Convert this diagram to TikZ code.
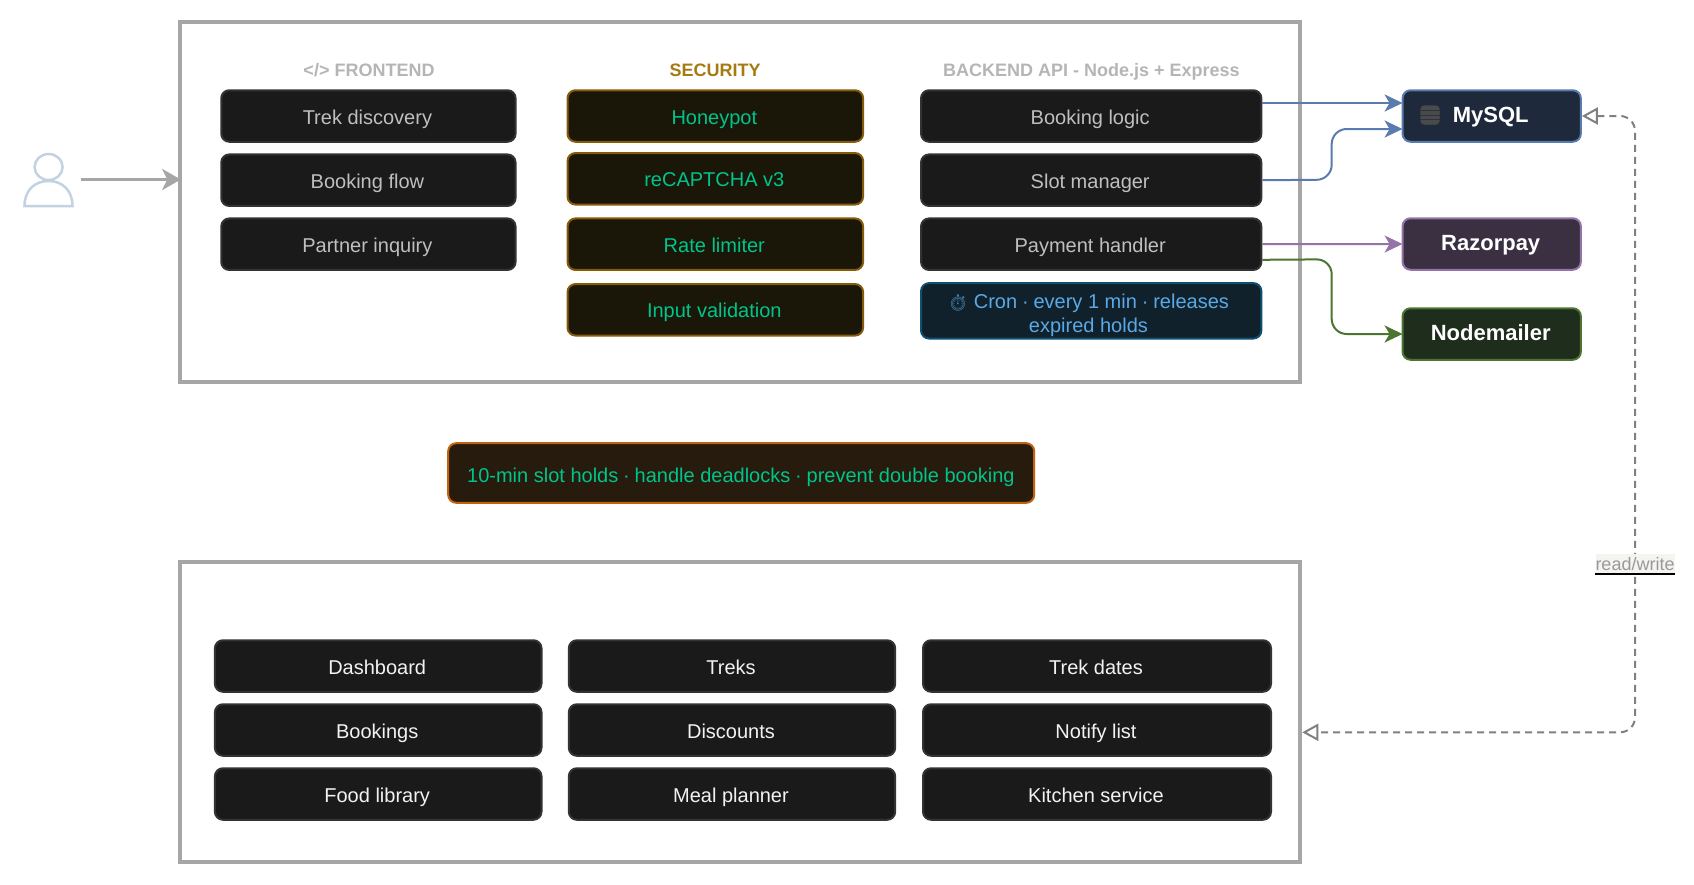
\documentclass[tikz,border=0pt]{standalone}
\usepackage{fontspec}
\setmainfont{Liberation Sans}
\newfontfamily\emojifont{Noto Emoji}
\usetikzlibrary{arrows.meta}
\definecolor{boxfill}{HTML}{1A1A1A}
\definecolor{boxline}{HTML}{333333}
\definecolor{framegray}{HTML}{A6A6A6}
\definecolor{headgray}{HTML}{B5B5B5}
\definecolor{secgold}{HTML}{A67A10}
\definecolor{secfill}{HTML}{1A1708}
\definecolor{secline}{HTML}{855A0A}
\definecolor{secgreen}{HTML}{00C48C}
\definecolor{holdfill}{HTML}{261B0D}
\definecolor{holdline}{HTML}{C2620E}
\definecolor{cronfill}{HTML}{10212B}
\definecolor{cronline}{HTML}{0F5070}
\definecolor{cronblue}{HTML}{5AA9E6}
\definecolor{sqlfill}{HTML}{1E293B}
\definecolor{sqlline}{HTML}{5A7BAD}
\definecolor{payfill}{HTML}{3B2F42}
\definecolor{payline}{HTML}{9673A6}
\definecolor{mailfill}{HTML}{1F2D1C}
\definecolor{mailline}{HTML}{4B7530}
\definecolor{usercolor}{HTML}{C3D2E2}
\definecolor{labelfill}{HTML}{F5F4F0}
\definecolor{dbgray}{HTML}{4A4A4A}
\newcommand{\middot}{\kern-.7pt·\kern-.7pt}
\tikzset{
    boxnode/.style={
        rectangle,
        rounded corners=8pt,
        draw=boxline,
        fill=boxfill,
        line width=2pt,
        minimum height=51.5pt,
        inner sep=0,
        text height=18pt,
        text depth=2pt,
        text=black!25,
        font=\fontsize{20}{24}\selectfont,
        execute at end node={\hspace{2pt}}
    },
    adminnode/.style={
        boxnode,
        text=black!5
    },
    secnode/.style={
        boxnode,
        draw=secline,
        fill=secfill,
        text=secgreen,
        minimum width=295.6pt
    },
    extnode/.style={
        boxnode,
        minimum width=178.3pt,
        text height=16pt,
        text depth=4pt,
        text=white,
        font=\fontsize{22}{26}\selectfont\bfseries,
        execute at end node={}
    },
    framenode/.style={
        rectangle,
        draw=framegray,
        line width=4pt,
        minimum width=1120.5pt,
        inner sep=0
    },
    headnode/.style={
        inner sep=0,
        text height=16.3pt,
        text depth=3.7pt,
        text=headgray,
        font=\fontsize{18}{22}\selectfont\bfseries
    },
    flowline/.style={
        line width=2pt,
        rounded corners=15pt,
        shorten >=-1pt,
        -{Stealth[length=18pt,width=17pt,inset=5pt]}
    }
}

\begin{document}
\begin{tikzpicture}[x=1pt,y=-1pt]
    \useasboundingbox (0,0) rectangle (1694,884);
    % outer frames
    \node[framenode, minimum height=360pt] (appframe) at (740,202) {};
    \node[framenode, minimum height=300pt] (adminframe) at (740,712) {};

    % user
    \node[minimum width=65pt, minimum height=54pt, inner sep=0, outer sep=0] (user) at (48.5,179.5) {};
    \draw[usercolor, line width=2.5pt] (48.6,167) ellipse (14 and 13);
    \draw[usercolor, line width=2.5pt] (24.5,206) .. controls (24.5,190) and (35,181) .. (48.5,181)
        .. controls (62,181) and (72.5,190) .. (72.5,206) -- cycle;

    % column titles
    \node[headnode] (frontendtitle) at (369,69.7) {</> FRONTEND};
    \node[headnode, text=secgold] (securitytitle) at (715,69.7) {SECURITY};
    \node[headnode] (backendtitle) at (1091.4,69.7) {BACKEND API - Node.js + Express};

    % frontend
    \node[boxnode, minimum width=294.3pt] (trek) at (368.4,116) {Trek discovery};
    \node[boxnode, minimum width=294.3pt] (flow) at (368.4,180.2) {Booking flow};
    \node[boxnode, minimum width=294.3pt] (partner) at (368.4,244.2) {Partner inquiry};

    % security
    \node[secnode] (honeypot) at (715.3,116) {Honeypot};
    \node[secnode] (captcha) at (715.3,178.8) {reCAPTCHA v3};
    \node[secnode] (limiter) at (715.3,244.2) {Rate limiter};
    \node[secnode] (validation) at (715.3,309.8) {Input validation};

    % backend
    \node[boxnode, minimum width=340.3pt] (logic) at (1091.2,116) {Booking logic};
    \node[boxnode, minimum width=340.3pt] (slots) at (1091.2,180.2) {Slot manager};
    \node[boxnode, minimum width=340.3pt] (payment) at (1091.2,244.2) {Payment handler};
    \node[boxnode, minimum width=340.3pt, minimum height=55.4pt, text height=48pt, text depth=5.2pt, execute at end node={\hspace{3.5pt}}, draw=cronline, fill=cronfill, text=cronblue, align=center] (cron) at (1091.2,310.8)
        {{\emojifont\fontsize{16}{24}\selectfont\color{cronblue!70!cronfill}⏱} Cron \middot{} every 1 min \middot{} releases\\expired holds};

    % external services
    \node[extnode, draw=sqlline, fill=sqlfill] (mysql) at (1491.7,116) {MySQL};
    \node[extnode, draw=payline, fill=payfill] (razorpay) at (1491.7,244) {Razorpay};
    \node[extnode, draw=mailline, fill=mailfill] (nodemailer) at (1491.7,334) {Nodemailer};

    % database glyph
    \draw[dbgray, fill=dbgray, rounded corners=4pt] (1420.5,105.5) rectangle (1439.5,124.5);
    \draw[sqlfill!70!dbgray, line width=.8pt] (1420,110.5) -- (1440,110.5);
    \draw[sqlfill!70!dbgray, line width=.8pt] (1420,115) -- (1440,115);
    \draw[sqlfill!70!dbgray, line width=.8pt] (1420,119.5) -- (1440,119.5);

    % slot holds
    \node[boxnode, minimum width=586pt, minimum height=59.6pt, text height=19pt, text depth=1pt, execute at end node={}, draw=holdline, fill=holdfill, text=secgreen] (holds) at (741.2,473)
        {\hspace{1.5pt}10-min slot holds \middot{} handle deadlocks \middot{} prevent double booking};

    % admin
    \node[adminnode, minimum width=326.6pt] (dashboard) at (378.2,666) {Dashboard};
    \node[adminnode, minimum width=326.6pt] (bookings) at (378.2,730) {Bookings};
    \node[adminnode, minimum width=326.6pt] (food) at (378.2,794) {Food library};
    \node[adminnode, minimum width=326.3pt] (treks) at (732,666) {Treks};
    \node[adminnode, minimum width=326.3pt] (discounts) at (732,730) {Discounts};
    \node[adminnode, minimum width=326.3pt] (meal) at (732,794) {Meal planner};
    \node[adminnode, minimum width=348pt] (dates) at (1097,666) {Trek dates};
    \node[adminnode, minimum width=348pt] (notify) at (1097,730) {Notify list};
    \node[adminnode, minimum width=348pt] (kitchen) at (1097,794) {Kitchen service};

    % connectors
    \draw[framegray, line width=3pt, shorten >=-3pt, -{Stealth[length=18.5pt,width=21pt,inset=5pt]}] (user.east) -- (appframe.west |- user.east);
    \draw[flowline, sqlline] ([yshift=13pt]logic.east) -- ([yshift=13pt]mysql.west);
    \draw[flowline, sqlline] (slots.east) -- (1331.7,179.7) |- ([yshift=-13pt]mysql.west);
    \draw[flowline, payline] (payment.east) -- (razorpay.west);
    \draw[flowline, mailline] ([yshift=-15.6pt]payment.east) -- (1331.7,259.3) |- (nodemailer.west);

    % database link
    \coordinate (dbturn) at (1635,732.3);
    \draw[black!50, line width=2pt, rounded corners=15pt, dash pattern=on 7pt off 5pt,
        {Triangle[open,length=16pt,width=17pt]}-{Triangle[open,length=16pt,width=17pt]}]
        (mysql.east) -| (dbturn) -- (adminframe.east |- dbturn);
    \node[fill=labelfill, inner sep=0, minimum width=78pt, minimum height=20pt, text=black!40, font=\fontsize{18}{22}\selectfont] (rwlabel) at (1635,564) {read/write};
    \draw[black, line width=2pt] (rwlabel.south west) -- (rwlabel.south east);
\end{tikzpicture}
\end{document}
